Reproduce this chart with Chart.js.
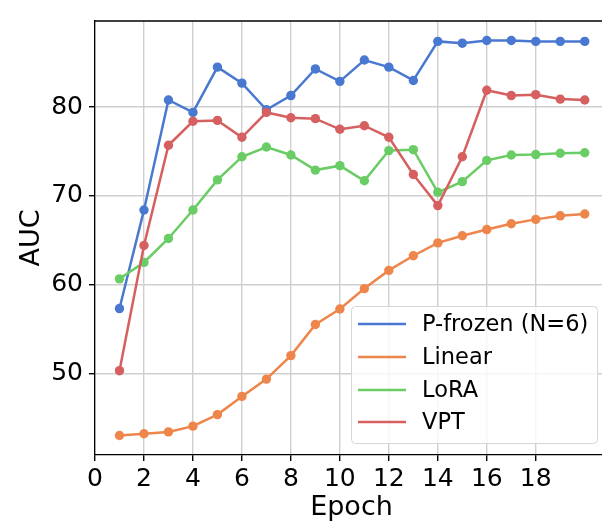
<!DOCTYPE html>
<html>
<head>
<meta charset="utf-8">
<script src="https://cdn.jsdelivr.net/npm/chart.js@4"></script>
<style>
  body { margin: 0; overflow: hidden; background: #fff; }
  #wrap { width: 602px; height: 521px; overflow: hidden; }
</style>
</head>
<body>
<div id="wrap"><canvas id="auc" width="608" height="521"></canvas></div>
<script>
const epochs = [1,2,3,4,5,6,7,8,9,10,11,12,13,14,15,16,17,18,19,20];
const pFrozen = [57.3,68.4,80.8,79.4,84.5,82.7,79.7,81.3,84.3,82.9,85.3,84.5,83.0,87.4,87.2,87.5,87.5,87.4,87.4,87.4];
const linear  = [43.0,43.2,43.4,44.05,45.35,47.4,49.35,52.0,55.5,57.25,59.55,61.6,63.25,64.7,65.5,66.2,66.85,67.35,67.75,67.95];
const lora    = [60.65,62.5,65.2,68.4,71.8,74.4,75.5,74.6,72.9,73.4,71.7,75.1,75.2,70.4,71.6,74.0,74.6,74.65,74.8,74.85];
const vpt     = [50.3,64.4,75.7,78.4,78.5,76.6,79.4,78.8,78.7,77.5,77.9,76.6,72.4,68.9,74.4,81.9,81.3,81.4,80.9,80.8];
const xTicks = [0,2,4,6,8,10,12,14,16,18];
const yTicks = [50,60,70,80];

const FONT = 'DejaVu Sans';

function series(label, values, color, order) {
    return {
        label: label,
        data: epochs.map((e, i) => ({ x: e, y: values[i] })),
        borderColor: color,
        backgroundColor: color,
        borderWidth: 2.5,
        pointRadius: 4.7,
        pointHoverRadius: 4.7,
        pointBorderWidth: 0,
        tension: 0,
        order: order
    };
}

// top frame line + legend inside the plot, matplotlib style
const frameLegend = {
    id: 'frameLegend',
    afterDraw(chart) {
        const c = chart.ctx, a = chart.chartArea;
        c.save();
        c.strokeStyle = '#000';
        c.lineWidth = 1.3;
        c.beginPath();
        c.moveTo(a.left, a.top);
        c.lineTo(a.right, a.top);
        c.stroke();

        const bx = 351, by = 306, bw = 246, bh = 137;
        c.fillStyle = 'rgba(255,255,255,0.8)';
        c.strokeStyle = '#d6d6d6';
        c.lineWidth = 1;
        c.beginPath();
        c.roundRect(bx + 0.5, by + 0.5, bw, bh, 4);
        c.fill();
        c.stroke();

        c.font = '22.5px "' + FONT + '"';
        c.textBaseline = 'middle';
        const rows = [324, 357, 390, 422];
        chart.data.datasets.forEach((ds, i) => {
            c.strokeStyle = ds.borderColor;
            c.lineWidth = 2.7;
            c.beginPath();
            c.moveTo(358, rows[i]);
            c.lineTo(406, rows[i]);
            c.stroke();
            c.fillStyle = '#000';
            c.fillText(ds.label, 422, rows[i] + 1);
        });
        c.restore();
    }
};

new Chart(document.getElementById('auc'), {
    type: 'line',
    data: {
        datasets: [
            series('P-frozen (N=6)', pFrozen, '#4878d0', 3),
            series('Linear', linear, '#ee854a', 2),
            series('LoRA', lora, '#6acc64', 1),
            series('VPT', vpt, '#d65f5f', 0)
        ]
    },
    options: {
        responsive: false,
        animation: false,
        layout: { autoPadding: false, padding: { top: 17, left: 0, right: 0, bottom: 0 } },
        plugins: { legend: { display: false }, tooltip: { enabled: false } },
        scales: {
            x: {
                type: 'linear',
                min: 0,
                max: 20.95,
                afterBuildTicks: s => { s.ticks = xTicks.map(v => ({ value: v })); },
                afterFit: s => { s.height = 66; },
                grid: { color: '#cfcfcf', lineWidth: 1.4, tickLength: 6, tickColor: '#000' },
                border: { display: true, color: '#000', width: 1.3 },
                ticks: { color: '#000', font: { family: FONT, size: 25 }, padding: 3, maxRotation: 0, autoSkip: false },
                title: { display: true, text: 'Epoch', color: '#000', font: { family: FONT, size: 27, lineHeight: 1.0 }, padding: { top: 0, bottom: 0 } }
            },
            y: {
                min: 40.8,
                max: 89.7,
                afterBuildTicks: s => { s.ticks = yTicks.map(v => ({ value: v })); },
                afterFit: s => { s.width = 95; },
                grid: { color: '#cfcfcf', lineWidth: 1.4, tickLength: 6, tickColor: '#000' },
                border: { display: true, color: '#000', width: 1.3 },
                ticks: { color: '#000', font: { family: FONT, size: 25 }, padding: 6 },
                title: { display: true, text: 'AUC', color: '#000', font: { family: FONT, size: 27, lineHeight: 1.0 }, padding: { top: 18, bottom: 0 } }
            }
        }
    },
    plugins: [frameLegend]
});
</script>
</body>
</html>
